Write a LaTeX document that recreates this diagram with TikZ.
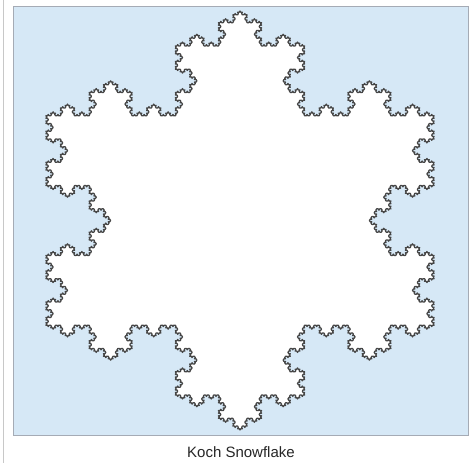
\documentclass[tikz,border=0pt]{standalone}
\usepackage{fontspec}
\setmainfont{Liberation Sans}
\usetikzlibrary{lindenmayersystems}
\pgfdeclarelindenmayersystem{KochCurve}{\rule{F -> F+F--F+F}}
\definecolor{panelblue}{RGB}{214,232,246}
\definecolor{panelborder}{RGB}{165,171,181}
\definecolor{flakeline}{RGB}{70,70,70}
\definecolor{sideline}{RGB}{200,200,200}
\tikzset{
  panel/.style={fill=panelblue, draw=panelborder, line width=1pt},
  flake/.style={fill=white, draw=flakeline, line width=1.25pt, line join=round},
  caption/.style={font=\fontsize{15}{18}\selectfont, text=black!85, inner sep=0pt}
}
\begin{document}
\begin{tikzpicture}[x=1pt,y=1pt]
\useasboundingbox (0,0) rectangle (472,468);
\coordinate (lt) at (3,468);
\coordinate (lb) at (3,5);
\draw[sideline, line width=1pt] (lt) -- (lb);
\node[panel, minimum width=455pt, minimum height=429pt, inner sep=0pt, anchor=north west] (bg) at (13,462) {};
\begin{scope}[shift={(240,457)}, xscale=1.07]
\begin{scope}[rotate=-60]
\filldraw[flake, l-system={KochCurve, axiom=F--F--F, order=5, step=1.4933pt, angle=60}] (0,0) lindenmayer system -- cycle;
\end{scope}
\end{scope}
\node[caption] (cap) at (241,16) {Koch Snowflake};
\end{tikzpicture}
\end{document}
